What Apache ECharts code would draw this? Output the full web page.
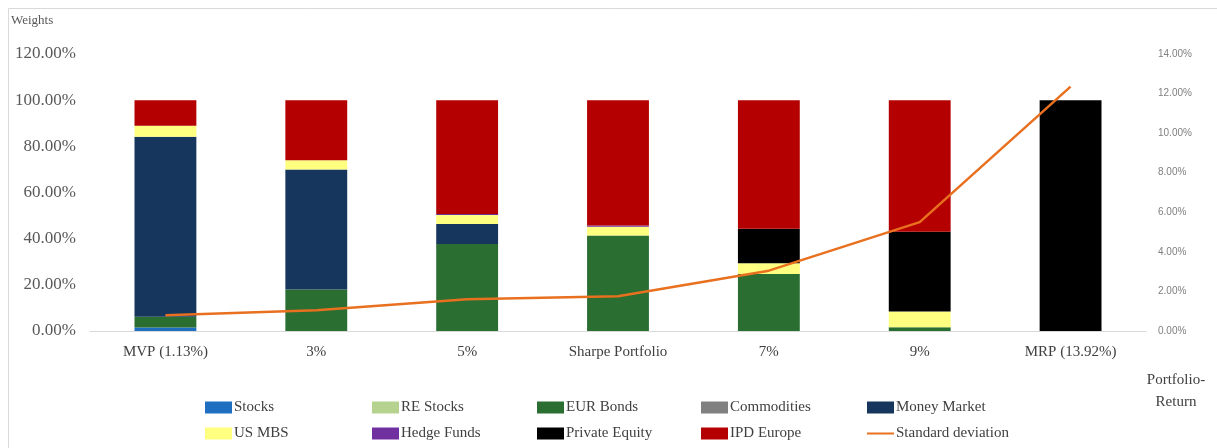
<!DOCTYPE html>
<html>
<head>
<meta charset="utf-8">
<script src="https://cdn.jsdelivr.net/npm/echarts@6/dist/echarts.min.js"></script>
<style>
  html, body { margin: 0; padding: 0; background: #fff; }
  #chart { width: 1217px; height: 448px; }
</style>
</head>
<body>
<div id="chart"></div>
<script>
// portfolios along the efficient frontier
var categories = ["MVP (1.13%)", "3%", "5%", "Sharpe Portfolio", "7%", "9%", "MRP (13.92%)"];

// asset weights in %
var stocks        = [1.5, 0, 0, 0, 0, 0, 0];
var reStocks      = [0, 0, 0, 0, 0, 0, 0];
var eurBonds      = [4.7, 18, 37.7, 41.4, 24.7, 1.6, 0];
var commodities   = [0, 0, 0, 0, 0, 0, 0];
var moneyMarket   = [77.9, 52, 8.6, 0, 0, 0, 0];
var usMbs         = [4.8, 4, 3.9, 3.8, 4.6, 6.8, 0];
var hedgeFunds    = [0, 0, 0.5, 0.5, 0, 0, 0];
var privateEquity = [0, 0, 0, 0, 15, 34.6, 100];
var ipdEurope     = [11.1, 26, 49.3, 54.3, 55.7, 57, 0];

// standard deviation in %
var stdDev = [0.8, 1.05, 1.6, 1.76, 3.05, 5.5, 12.35];

var serif = "'Liberation Serif', 'DejaVu Serif', serif";

function bar(name, data, color) {
  return {
    name: name,
    type: "bar",
    stack: "w",
    barWidth: "41%",
    data: data,
    itemStyle: { color: color }
  };
}

var chart = echarts.init(document.getElementById("chart"));

function legendCol(left, items) {
  return {
    orient: "vertical",
    left: left,
    top: 400,
    padding: 0,
    itemWidth: 27,
    itemHeight: 12,
    itemGap: 11,
    itemStyle: { borderWidth: 0 },
    textStyle: { fontFamily: serif, fontSize: 15, color: "#404040", padding: [0, 0, 0, -3] },
    data: items
  };
}

chart.setOption({
  animation: false,
  title: {
    text: "Weights",
    left: 11,
    top: 14,
    padding: 0,
    textStyle: { fontFamily: serif, fontSize: 13, fontWeight: "normal", color: "#595959" }
  },
  graphic: [
    {
      type: "rect",
      shape: { x: 8.5, y: 8.5, width: 1220, height: 450 },
      style: { fill: "none", stroke: "#d9d9d9", lineWidth: 1 },
      silent: true
    },
    {
      type: "text",
      x: 1176,
      y: 369,
      style: {
        text: "Portfolio-\nReturn",
        fontFamily: serif,
        fontSize: 15,
        lineHeight: 22,
        fill: "#404040",
        align: "center"
      }
    }
  ],
  legend: [
    legendCol(205, [{ name: "Stocks", icon: "rect" }, { name: "US MBS", icon: "rect" }]),
    legendCol(372, [{ name: "RE Stocks", icon: "rect" }, { name: "Hedge Funds", icon: "rect" }]),
    legendCol(537, [{ name: "EUR Bonds", icon: "rect" }, { name: "Private Equity", icon: "rect" }]),
    legendCol(701, [{ name: "Commodities", icon: "rect" }, { name: "IPD Europe", icon: "rect" }]),
    legendCol(866, [{ name: "Money Market", icon: "rect" }, { name: "Standard deviation", itemStyle: { opacity: 0 } }])
  ],
  grid: {
    left: 90,
    right: 71,
    top: 54,
    bottom: 117
  },
  xAxis: {
    type: "category",
    data: categories,
    axisTick: { show: false },
    axisLine: { lineStyle: { color: "#d9d9d9", width: 1 } },
    axisLabel: { fontFamily: serif, fontSize: 15, color: "#404040", margin: 14, interval: 0 }
  },
  yAxis: [
    {
      type: "value",
      min: 0,
      max: 120,
      interval: 20,
      splitLine: { show: false },
      axisLabel: {
        fontFamily: serif,
        fontSize: 17,
        color: "#595959",
        margin: 14,
        formatter: function (v) { return v.toFixed(2) + "%"; }
      }
    },
    {
      type: "value",
      min: 0,
      max: 14,
      interval: 2,
      splitLine: { show: false },
      axisLabel: {
        fontFamily: "'Liberation Sans', sans-serif",
        fontSize: 10,
        color: "#7f7f7f",
        margin: 12,
        formatter: function (v) { return v.toFixed(2) + "%"; }
      }
    }
  ],
  series: [
    bar("Stocks", stocks, "#1f6fc0"),
    bar("RE Stocks", reStocks, "#b5d38f"),
    bar("EUR Bonds", eurBonds, "#2a6e31"),
    bar("Commodities", commodities, "#808080"),
    bar("Money Market", moneyMarket, "#17365d"),
    bar("US MBS", usMbs, "#ffff80"),
    bar("Hedge Funds", hedgeFunds, "#7030a0"),
    bar("Private Equity", privateEquity, "#000000"),
    bar("IPD Europe", ipdEurope, "#b40000"),
    {
      name: "Standard deviation",
      type: "line",
      yAxisIndex: 1,
      data: stdDev,
      symbol: "none",
      lineStyle: { color: "#e8701f", width: 2.5 },
      itemStyle: { color: "#e8701f" },
      z: 5
    }
  ]
});
</script>
</body>
</html>
